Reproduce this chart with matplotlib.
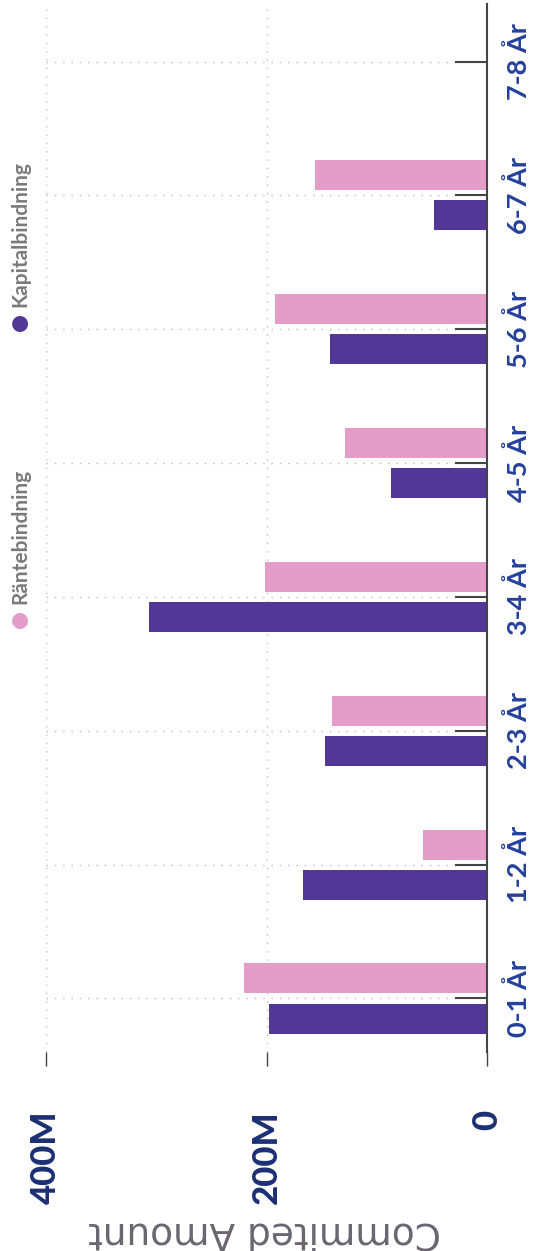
import matplotlib
matplotlib.use("Agg")
import matplotlib.pyplot as plt
import numpy as np

categories = ["0-1 År", "1-2 År", "2-3 År", "3-4 År", "4-5 År", "5-6 År", "6-7 År", "7-8 År"]
rante = [220, 58, 141, 201, 129, 192, 156, 0]      # Räntebindning, millions
kapital = [198, 167, 147, 307, 87, 142, 48, 0]     # Kapitalbindning, millions
value_ticks = [0, 200, 400]
value_labels = ["0", "200M", "400M"]
series_names = ["Räntebindning", "Kapitalbindning"]

PINK = "#e49dc8"
PURPLE = "#523896"
W, H = 534, 1251

fig = plt.figure(figsize=(W / 100, H / 100), dpi=100)
ax = fig.add_axes([46 / W, 1 - 1052 / H, (487 - 46) / W, (1052 - 4) / H])

y = np.arange(len(categories))
ax.barh(y + 0.15, rante, height=0.224, color=PINK)
ax.barh(y - 0.15, kapital, height=0.224, color=PURPLE)

ax.set_xlim(400, 0)
ax.set_ylim(-0.4, 7.43)

for s in ["left", "top", "bottom"]:
    ax.spines[s].set_visible(False)
ax.spines["right"].set_color("#444444")
ax.spines["right"].set_linewidth(1.5)

# category axis (right side, rotated labels)
ax.yaxis.tick_right()
ax.set_yticks(y)
ax.set_yticklabels(categories, rotation=90, va="center", ha="left",
                   family="Lato", weight="bold", fontsize=19.5, color="#24409c")
ax.tick_params(axis="y", direction="in", length=23, width=1.5, color="#444444", pad=14)

# value axis (bottom, rotated labels)
ax.set_xticks(value_ticks)
ax.set_xticklabels(value_labels, rotation=90, va="top", ha="center",
                   family="Lato", weight="black", fontsize=25, color="#1b2f73")
ax.tick_params(axis="x", direction="out", length=10, width=1, color="#444444", pad=32)

ax.grid(True, linestyle=(0, (1, 5)), color="#bdbdbd", linewidth=1)
ax.set_axisbelow(True)

fig.text(265 / W, 1 - 1232 / H, "Commited Amount", rotation=180, ha="center", va="center",
         fontsize=27, color="#6b6570")

# legend (top of the unrotated chart -> left edge here)
legend_x = 20 / W
for name, col, ypx in [(series_names[0], PINK, 620), (series_names[1], PURPLE, 323)]:
    fig.text(legend_x, 1 - ypx / H, "●", color=col, fontsize=15, ha="center", va="center")
    fig.text(legend_x, 1 - (ypx - 16) / H, name, rotation=90, ha="center", va="bottom",
             family="Lato", weight="bold", fontsize=15, color="#7a7a7a")

fig.savefig("out.png", dpi=100)
